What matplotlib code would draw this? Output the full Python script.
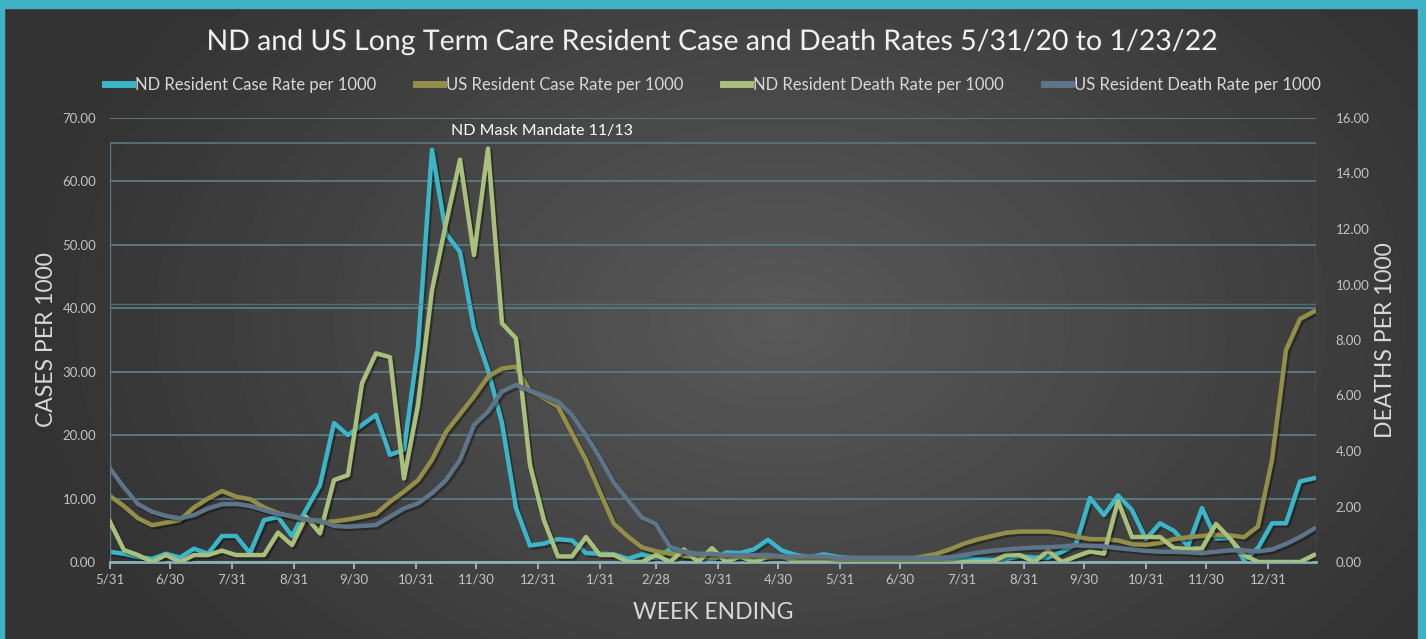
import matplotlib
matplotlib.use("Agg")
import matplotlib.pyplot as plt
import matplotlib.patheffects as pe
import matplotlib.dates as mdates
from matplotlib.patches import Rectangle
import numpy as np
import pandas as pd

plt.rcParams["font.family"] = ["Lato", "DejaVu Sans"]

# weekly data, week ending 5/31/20 .. 1/23/22
weeks = pd.date_range("2020-05-31", "2022-01-23", freq="7D")

nd_case = [1.6, 1.3, 0.8, 0.5, 1.3, 0.7, 2.1, 1.3, 4.1, 4.1, 1.4, 6.6, 7.1, 4.1, 8.2, 12.1, 21.9,
           20.0, 21.6, 23.2, 16.9, 17.7, 33.9, 65.0, 51.8, 48.9, 36.8, 30.3, 21.9, 8.5, 2.6,
           2.9, 3.6, 3.4, 1.4, 1.3, 1.2, 0.5, 1.2, 0.6, 2.0, 0.9, 0.7, 0.3, 1.5, 1.4, 2.0, 3.5, 1.8, 1.1, 0.8,
           1.2, 0.8, 0.6, 0.5, 0.4, 0.3, 0.3, 0.3, 0.4, 0.5, 0.6, 0.4, 0.3, 0.5, 0.9, 0.7, 0.7, 1.6, 2.8, 10.1,
           7.4, 10.5, 8.2, 3.6, 6.1, 4.9, 2.5, 8.5, 3.7, 3.8, 0.3, 2.2, 6.1, 6.1, 12.7, 13.2]

us_case = [10.4, 8.8, 6.9, 5.8, 6.2, 6.6, 8.6, 10.0, 11.2, 10.3, 9.9, 8.6, 7.7, 7.1, 6.6, 6.3, 6.4,
           6.7, 7.1, 7.6, 9.5, 11.1, 12.9, 16.1, 20.5, 23.3, 26.1, 29.2, 30.5, 30.8, 26.9,
           25.8, 24.5, 20.3, 16.1, 11.0, 6.0, 4.0, 2.3, 1.7, 1.3, 1.0, 0.85, 0.75, 0.75, 0.7, 0.7, 0.65, 0.6, 0.6, 0.55,
           0.5, 0.5, 0.45, 0.4, 0.4, 0.4, 0.5, 0.84, 1.26, 2.0, 2.9, 3.57, 4.1, 4.6, 4.8, 4.8, 4.8, 4.5, 4.0, 3.6,
           3.6, 3.4, 2.8, 2.7, 3.0, 3.6, 3.9, 4.1, 4.3, 4.2, 3.9, 5.6, 16.1, 33.4, 38.3, 39.5]

nd_death = [1.45, 0.43, 0.25, 0.0, 0.25, 0.0, 0.25, 0.25, 0.41, 0.25, 0.25, 0.25, 1.06, 0.61, 1.63, 1.03, 2.95,
            3.13, 6.44, 7.52, 7.38, 3.01, 5.66, 9.8, 12.2, 14.5, 11.06, 14.9, 8.6, 8.06, 3.5,
            1.5, 0.2, 0.2, 0.9, 0.25, 0.25, 0.0, 0.0, 0.25, 0.0, 0.45, 0.0, 0.5, 0.0, 0.2, 0.0, 0.2, 0.2, 0.0, 0.0,
            0.0, 0.0, 0.0, 0.0, 0.0, 0.0, 0.0, 0.0, 0.0, 0.0, 0.0, 0.0, 0.0, 0.25, 0.25, 0.0, 0.4, 0.0, 0.2, 0.38,
            0.3, 2.2, 0.9, 0.9, 0.9, 0.5, 0.47, 0.49, 1.37, 0.85, 0.25, 0.0, 0.0, 0.0, 0.0, 0.25]

us_death = [3.38, 2.69, 2.09, 1.81, 1.66, 1.57, 1.69, 1.93, 2.08, 2.09, 2.02, 1.87, 1.73, 1.66, 1.54, 1.49, 1.3,
            1.27, 1.3, 1.33, 1.63, 1.93, 2.11, 2.48, 2.95, 3.68, 4.94, 5.42, 6.14, 6.38, 6.17,
            5.98, 5.78, 5.3, 4.58, 3.76, 2.85, 2.23, 1.6, 1.36, 0.55, 0.37, 0.3, 0.29, 0.25, 0.25, 0.25, 0.25, 0.2, 0.2, 0.2,
            0.2, 0.15, 0.15, 0.15, 0.15, 0.15, 0.15, 0.15, 0.15, 0.17, 0.25, 0.34, 0.4, 0.45, 0.49, 0.52, 0.53, 0.56, 0.6, 0.58,
            0.56, 0.5, 0.45, 0.4, 0.37, 0.37, 0.35, 0.32, 0.37, 0.42, 0.42, 0.38, 0.45, 0.65, 0.9, 1.2]

labels = ["ND Resident Case Rate per 1000", "US Resident Case Rate per 1000",
          "ND Resident Death Rate per 1000", "US Resident Death Rate per 1000"]
colors = ["#3bb6c9", "#948f48", "#a9c07c", "#5d7489"]

W, H = 1426, 639
fig = plt.figure(figsize=(W / 100, H / 100), dpi=100)

# dark radial gradient background
bg = fig.add_axes([0, 0, 1, 1], zorder=-10)
yy, xx = np.mgrid[0:H, 0:W]
d = np.sqrt(((xx - 780) / 760.0) ** 2 + ((yy - 320) / 520.0) ** 2)
shade = 0.35 - 0.15 * np.clip(d, 0, 1)
bg.imshow(shade, cmap="gray", vmin=0, vmax=1, aspect="auto", extent=(0, 1, 0, 1))
bg.set_axis_off()
teal = "#3fb1c5"
for rect in [(0, 1 - 8 / H, 1, 8 / H), (0, 0, 4 / W, 1), (1 - 8 / W, 0, 8 / W, 1)]:
    fig.patches.append(Rectangle(rect[:2], rect[2], rect[3], transform=fig.transFigure,
                                 color=teal, zorder=-5))

ax = fig.add_axes([110 / W, 1 - 562 / H, 1206 / W, 444 / H])
ax.patch.set_alpha(0)
ax2 = ax.twinx()

shadow = [pe.SimpleLineShadow(offset=(1.5, -1.5), alpha=0.35, shadow_color="black"), pe.Normal()]
h1, = ax.plot(weeks, nd_case, color=colors[0], lw=3.2, path_effects=shadow)
h2, = ax.plot(weeks, us_case, color=colors[1], lw=3.2, path_effects=shadow)
h3, = ax2.plot(weeks, nd_death, color=colors[2], lw=3.2, path_effects=shadow)
h4, = ax2.plot(weeks, us_death, color=colors[3], lw=3.2, path_effects=shadow)

ax.set_xlim(weeks[0], weeks[-1] + pd.Timedelta(days=1))
ax.set_ylim(0, 70)
ax2.set_ylim(0, 16)

grid_c = "#587880"
ax.set_yticks(np.arange(0, 71, 10))
ax.grid(axis="y", color=grid_c, lw=1.4)
ax.axhline(40.6, color=grid_c, lw=1.0, alpha=0.8)
ax.axhline(66.1, color=grid_c, lw=1.2)
ax2.set_yticks(np.arange(0, 17, 2))

ax.yaxis.set_major_formatter(plt.FuncFormatter(lambda v, p: f"{v:.2f}"))
ax2.yaxis.set_major_formatter(plt.FuncFormatter(lambda v, p: f"{v:.2f}"))

month_ends = pd.date_range("2020-05-31", "2021-12-31", freq="ME")
ax.set_xticks(month_ends)
ax.xaxis.set_major_formatter(plt.FuncFormatter(
    lambda v, p: f"{mdates.num2date(v).month}/{mdates.num2date(v).day}"))

tick_c = "#c4c4c4"
ax.tick_params(axis="x", colors="#8fb0b8", labelcolor=tick_c, labelsize=9.5, length=5, width=1.5, pad=3)
ax.tick_params(axis="y", length=0, labelcolor=tick_c, labelsize=9.5, pad=10)
ax2.tick_params(axis="y", length=0, labelcolor=tick_c, labelsize=9.5, pad=14)

for a in (ax, ax2):
    for s in ("top", "left", "right", "bottom"):
        a.spines[s].set_visible(False)
ax.spines["bottom"].set_visible(True)
ax.spines["bottom"].set_color("#8fb0b8")
ax.spines["bottom"].set_linewidth(2)
ax.axvline(weeks[0], ymax=66.1 / 70, color=grid_c, lw=1)
ax.axvline(weeks[-1] + pd.Timedelta(days=1), ymax=66.1 / 70, color=grid_c, lw=1)

lab_c = "#d8d8d8"
ax.set_ylabel("CASES PER 1000", color=lab_c, fontsize=16.5, labelpad=4)
ax2.set_ylabel("DEATHS PER 1000", color=lab_c, fontsize=16.5, labelpad=4)
ax.set_xlabel("WEEK ENDING", color=lab_c, fontsize=16.5, labelpad=12)

title_fx = [pe.withSimplePatchShadow(offset=(1.5, -1.5), alpha=0.5)]
fig.text(0.5, 1 - 42 / H, "ND and US Long Term Care Resident Case and Death Rates 5/31/20 to 1/23/22",
         ha="center", va="center", color="#f2f2f2", fontsize=20.5, path_effects=title_fx)

ax.text(pd.Timestamp("2021-01-02"), 68.0, "ND Mask Mandate 11/13", ha="center", va="center",
        color="white", fontsize=11.5)

leg = fig.legend([h1, h2, h3, h4], labels, loc="center", bbox_to_anchor=(0.5, 1 - 85 / H),
                 ncol=4, frameon=False, fontsize=12, labelcolor=lab_c, handlelength=1.6,
                 handletextpad=0.2, columnspacing=2.4)
for ln in leg.get_lines():
    ln.set_linewidth(5)
    ln.set_path_effects([])

fig.savefig("out.png", dpi=100)
